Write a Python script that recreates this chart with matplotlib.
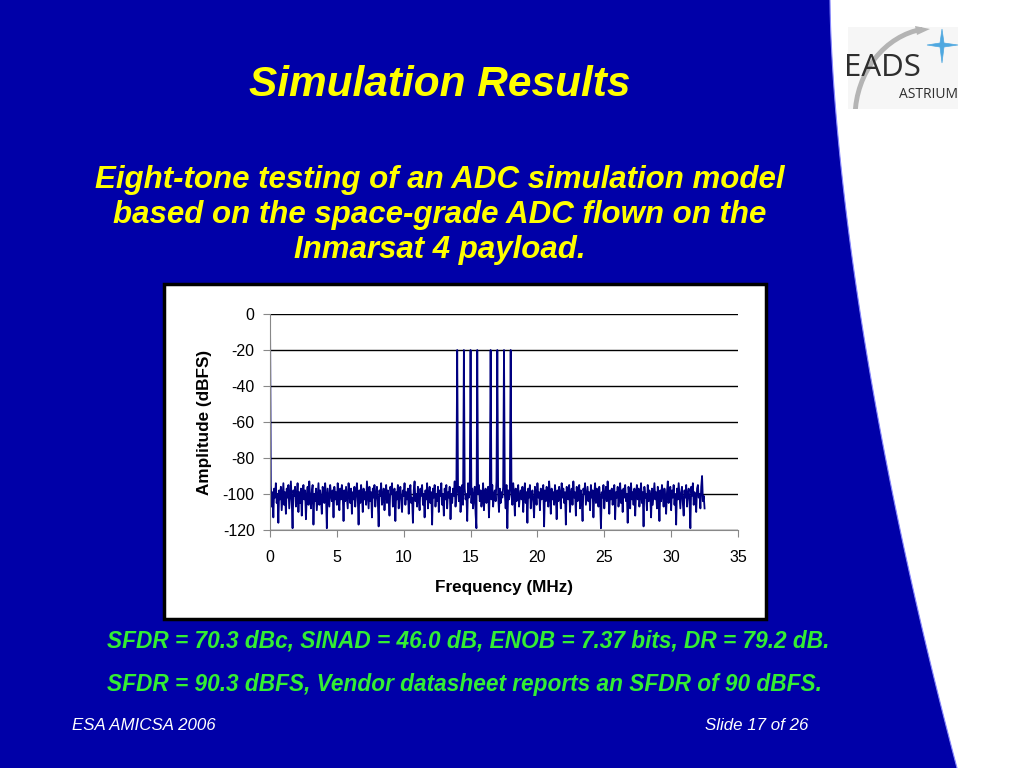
#slide: eight-tone ADC simulation spectrum
import matplotlib.pyplot as plt
import numpy as np
from matplotlib.patches import Rectangle, Polygon, Arc

plt.rcParams['font.family'] = ['Liberation Sans', 'DejaVu Sans']
plt.rcParams['axes.unicode_minus'] = False

#spectrum data, one value per 0.0625 MHz bin from 0 to 32.5 MHz
bin_width = 0.0625
amplitude = [
    0, -95, -107, -99, -113, -97, -102, -94, -105, -100, -116, -98, -103, -96, -109, -101, -94, -106, -99, -111,
    -97, -102, -95, -108, -100, -93, -104, -119, -98, -101, -96, -107, -103, -94, -110, -99, -105, -97, -112, -100,
    -95, -103, -98, -114, -101, -96, -106, -93, -102, -108, -99, -95, -117, -100, -104, -97, -109, -101, -94, -106,
    -98, -103, -111, -96, -100, -105, -94, -101, -119, -97, -102, -107, -95, -100, -104, -98, -113, -96, -103, -99,
    -106, -94, -101, -109, -97, -103, -95, -100, -115, -98, -104, -96, -102, -108, -94, -100, -105, -97, -111, -99,
    -103, -96, -107, -100, -94, -102, -117, -98, -105, -95, -101, -110, -97, -103, -99, -106, -93, -101, -108, -96,
    -104, -99, -113, -97, -102, -95, -107, -100, -96, -104, -118, -98, -101, -94, -106, -103, -97, -109, -100, -95,
    -105, -98, -102, -112, -96, -100, -94, -107, -101, -97, -115, -99, -103, -95, -108, -100, -96, -104, -110, -98,
    -101, -94, -106, -99, -103, -97, -111, -100, -95, -105, -102, -116, -98, -93, -104, -100, -107, -96, -102, -109,
    -97, -101, -95, -106, -100, -113, -98, -103, -94, -108, -101, -96, -105, -99, -117, -97, -102, -95, -107, -100,
    -104, -96, -110, -98, -101, -94, -106, -100, -112, -97, -103, -95, -108, -99, -102, -96, -114, -100, -105, -97,
    -101, -93, -107, -99, -20, -98, -104, -96, -110, -101, -95, -106, -20, -97, -103, -100, -115, -94, -102, -99,
    -20, -105, -97, -108, -101, -96, -111, -119, -20, -100, -95, -104, -98, -107, -102, -94, -109, -100, -97, -105,
    -101, -96, -113, -99, -20, -103, -95, -107, -100, -98, -104, -93, -20, -101, -110, -97, -105, -99, -102, -96,
    -20, -100, -108, -95, -119, -98, -103, -97, -20, -101, -106, -94, -100, -112, -97, -104, -99, -95, -107, -101,
    -98, -103, -96, -110, -100, -94, -105, -99, -116, -97, -102, -95, -108, -101, -98, -104, -113, -96, -100, -106,
    -94, -102, -99, -109, -97, -103, -100, -95, -118, -98, -104, -96, -101, -107, -93, -100, -111, -97, -103, -99,
    -106, -95, -101, -114, -98, -104, -96, -100, -108, -94, -102, -97, -105, -99, -117, -96, -101, -103, -95, -110,
    -100, -97, -106, -93, -102, -99, -112, -96, -104, -101, -95, -108, -98, -103, -115, -97, -100, -94, -106, -101,
    -96, -104, -99, -109, -95, -102, -98, -113, -100, -94, -105, -97, -101, -107, -96, -103, -119, -99, -102, -95,
    -108, -100, -96, -104, -93, -101, -111, -98, -103, -97, -106, -100, -95, -114, -99, -102, -96, -107, -101, -94,
    -105, -98, -110, -97, -102, -95, -104, -100, -116, -96, -101, -108, -94, -103, -99, -106, -97, -112, -100, -95,
    -103, -97, -107, -101, -94, -105, -99, -118, -96, -102, -100, -109, -95, -104, -98, -101, -113, -97, -106, -100,
    -94, -103, -99, -108, -96, -101, -115, -98, -104, -95, -100, -107, -97, -102, -111, -99, -93, -105, -100, -96,
    -109, -98, -102, -95, -106, -100, -117, -97, -103, -94, -101, -108, -99, -96, -105, -112, -98, -102, -95, -107,
    -100, -97, -104, -119, -96, -101, -94, -106, -99, -103, -110, -97, -95, -102, -100, -108, -96, -90, -104, -101,
    -108,
]
frequency = np.arange(len(amplitude)) * bin_width

x_ticks = [0, 5, 10, 15, 20, 25, 30, 35]
y_ticks = [0, -20, -40, -60, -80, -100, -120]

title = "Simulation Results"
subtitle = ["Eight-tone testing of an ADC simulation model",
            "based on the space-grade ADC flown on the",
            "Inmarsat 4 payload."]
results = ["SFDR = 70.3 dBc, SINAD = 46.0 dB, ENOB = 7.37 bits, DR = 79.2 dB.",
           "SFDR = 90.3 dBFS, Vendor datasheet reports an SFDR of 90 dBFS."]

W, H = 1024, 768
fig = plt.figure(figsize=(W / 100, H / 100), dpi=100)
fig.patch.set_facecolor('#0000a8')

#background layer in pixel coordinates
bg = fig.add_axes([0, 0, 1, 1])
bg.set_xlim(0, W)
bg.set_ylim(H, 0)
bg.axis('off')

#white curved panel on the right
yy = np.linspace(0, H, 60)
xx = 830 + 127 * (yy / H) ** 1.6
edge = list(zip(xx, yy)) + [(W, H), (W, 0)]
bg.add_patch(Polygon(edge, closed=True, facecolor='white', edgecolor='none'))
bg.plot(xx, yy, color='#8888ff', lw=0.8)

#logo
logo_box = Rectangle((848, 27), 110, 82, facecolor='#f6f6f6', edgecolor='none')
bg.add_patch(logo_box)
swoosh = Arc((935, 118), 160, 180, theta1=182, theta2=262, color='#b4b4b4', lw=3.5)
bg.add_patch(swoosh)
swoosh.set_clip_path(logo_box)
bg.add_patch(Polygon([(915, 26), (930, 29), (917, 35)], closed=True, facecolor='#b4b4b4',
                     edgecolor='none'))
star = [(942, 29), (944, 43), (958, 45), (944, 47), (942, 63), (940, 47), (927, 45), (940, 43)]
bg.add_patch(Polygon(star, closed=True, facecolor='#4fa8e0', edgecolor='#4fa8e0', lw=0.5))
bg.text(844, 68, "EADS", fontsize=22.5, color='#2e2e2e', fontweight='medium', ha='left',
        va='center', family='Open Sans')
bg.text(958, 94, "ASTRIUM", fontsize=10, color='#2e2e2e', ha='right', va='center',
        family='Open Sans')

#slide text
bg.text(440, 85, title, fontsize=30.5, color='#ffff00', fontweight='bold', fontstyle='italic',
        ha='center', va='center')
for i, line in enumerate(subtitle):
    bg.text(440, 180 + 35 * i, line, fontsize=22.5, color='#ffff00', fontweight='bold',
            fontstyle='italic', ha='center', va='center')
for i, line in enumerate(results):
    bg.text(107, 641 + 44 * i, line, fontsize=16.3, color='#33ee33', fontweight='bold',
            fontstyle='italic', ha='left', va='center')
bg.text(72, 726, "ESA AMICSA 2006", fontsize=12.2, color='white', fontstyle='italic',
        ha='left', va='center')
bg.text(808, 726, "Slide 17 of 26", fontsize=12.2, color='white', fontstyle='italic',
        ha='right', va='center')

#chart frame
bg.add_patch(Rectangle((164, 284), 602, 335, facecolor='white', edgecolor='black', lw=2.5))

#the spectrum plot
ax = fig.add_axes([270 / W, 1 - 530 / H, (738 - 270) / W, (530 - 314) / H])
ax.plot(frequency, amplitude, color='#000080', lw=1.3)
ax.set_xlim(0, 35)
ax.set_ylim(-120, 0)
ax.set_xticks(x_ticks)
ax.set_yticks(y_ticks)
ax.yaxis.grid(True, color='black', lw=1)
ax.set_axisbelow(True)
for side in ['top', 'right']:
    ax.spines[side].set_visible(False)
for side in ['left', 'bottom']:
    ax.spines[side].set_color('#888888')
ax.tick_params(axis='both', labelsize=11.5, color='#888888', length=5)
ax.tick_params(axis='x', pad=9.5)
ax.tick_params(axis='y', pad=6)
ax.set_xlabel("Frequency (MHz)", fontsize=12.3, fontweight='bold', labelpad=11)
ax.set_ylabel("Amplitude (dBFS)", fontsize=12.3, fontweight='bold', labelpad=8)

fig.savefig("out.png", dpi=100, facecolor=fig.get_facecolor())
